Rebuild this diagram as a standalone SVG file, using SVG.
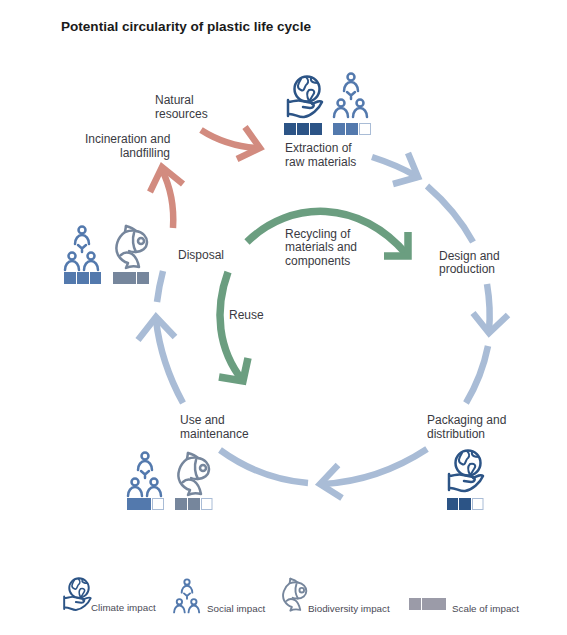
<svg xmlns="http://www.w3.org/2000/svg" width="567" height="635" viewBox="0 0 567 635">
<style>
text{font-family:"Liberation Sans",Arial,sans-serif;font-size:12px;fill:#3a3a42}
.title{font-size:13.55px;font-weight:bold;fill:#1a1a1a}
.lg{font-size:9.8px;fill:#4a4a55}
.c{fill:none;stroke-miterlimit:8}
.b{stroke:#a9bcd6;stroke-width:6.5}
.g{stroke:#6b9e80;stroke-width:7.5}
.r{stroke:#d28b7f;stroke-width:6.5}
.ci{fill:#2c5486}.so{fill:#5379ad}.bi{fill:#76869c}.gy{fill:#9b9ba8}
.em{fill:#fff;stroke:#a9bcd6;stroke-width:1}
.ic{fill:none;stroke-width:2.5;stroke-linecap:round;stroke-linejoin:round}
</style>
<defs>
<g id="globe" class="ic" stroke="#2c5486">
<circle r="12.5"/>
<path stroke-width="2" d="M-6 -10C-9 -5 -11 -1 -6 1C-2 3 -3 -3 0 -5C2 -7 1 -10 -1 -12M4 -11C3 -7 7 -6 11 -6M2 1C6 0 9 2 6 6C4 9 4 10 2 12C0 8 -1 4 2 1Z"/>
<path d="M-19 11V27M-19 13C-14 13 -10 10 -5 12L5 14C8 15 7 19 3 19L-4 18M-19 25C-13 24 -8 29 -3 28C4 27 12 20 15 13C13 11 9 13 5 15"/>
</g>
<g id="people" class="ic" stroke="#5379ad">
<circle cx="0" cy="0" r="3.5"/><path d="M-7 14C-7 9 -4 5 0 5C4 5 7 9 7 14"/>
<circle cx="-10" cy="26" r="3.5"/><path d="M-17 40C-17 35 -14 31 -10 31C-6 31 -3 35 -3 40"/>
<circle cx="9" cy="26" r="3.5"/><path d="M2 40C2 35 5 31 9 31C13 31 16 35 16 40"/>
<path d="M-4 15L0 18.500L4 15M0 18.500V22"/>
</g>
<g id="fish" class="ic" stroke="#76869c">
<path d="M11 1L10 7C3 12 -1 22 3 30C6 35 9 37 13 38L11 43C15 41 20 41 24 42C23 37 20 31 17 29C13 27 9 27 6 30"/>
<path d="M11 1C15 2 19 4 21 6C28 7 32 12 32 17C32 23 27 27 20 27C18 27 16 27 14 26"/>
<path d="M10 7C13 6 18 5 21 6M19 8C17 14 18 22 21 27"/>
<circle cx="26" cy="16" r="3"/>
</g>
</defs>
<text class="title" x="61" y="31">Potential circularity of plastic life cycle</text>
<g id="connectors">
<path class="c b" d="M372 157Q397 165 416 176"/><path class="c b" d="M408 153L418 177L393 184"/>
<path class="c b" d="M427 186Q456 211 473 242"/>
<path class="c b" d="M487 284Q491 308 489 331"/><path class="c b" d="M473 313L489 333L508 315"/>
<path class="c b" d="M488 346Q482 376 466 403"/>
<path class="c b" d="M427 449Q378 481 323 484"/><path class="c b" d="M338 465L320 484L342 498"/>
<path class="c b" d="M308 483Q260 479 220 450"/>
<path class="c b" d="M183 403Q161 363 156 320"/><path class="c b" d="M138 340L156 317L175 337"/>
<path class="c b" d="M163 271Q159 286 157 302"/>
<path class="c r" d="M173 228Q175 196 162 170"/><path class="c r" d="M150 192L162 167L183 184"/>
<path class="c r" d="M201 130Q226 146 257 148"/><path class="c r" d="M245 127L260 148L237 159"/>
<path class="c g" d="M247 242C290 200 360 198 408 256"/><path class="c g" d="M408 232V256H384"/>
<path class="c g" d="M228 272C214 310 218 350 243 381"/><path class="c g" d="M248 358L243 381L219 377"/>
</g>
<g id="extraction">
<use href="#globe" x="307" y="89"/>
<rect class="ci" x="284" y="123" width="12" height="12"/><rect class="ci" x="297" y="123" width="12" height="12"/><rect class="ci" x="310" y="123" width="12" height="12"/>
<use href="#people" x="351" y="77"/>
<rect class="so" x="333" y="123" width="12" height="12"/><rect class="so" x="346" y="123" width="12" height="12"/><rect class="em" x="359.500" y="123.500" width="11" height="11"/>
<text x="285" y="152">Extraction of</text><text x="285" y="166">raw materials</text>
</g>
<g id="design"><text x="439" y="260">Design and</text><text x="439" y="273">production</text></g>
<g id="packaging">
<text x="427" y="424">Packaging and</text><text x="427" y="438">distribution</text>
<use href="#globe" x="468" y="463"/>
<rect class="ci" x="447" y="498" width="11" height="12"/><rect class="ci" x="459" y="498" width="12" height="12"/><rect class="em" x="472.500" y="498.500" width="10.500" height="11"/>
</g>
<g id="use">
<text x="180" y="424">Use and</text><text x="180" y="438">maintenance</text>
<use href="#people" x="145" y="456"/>
<rect class="so" x="127" y="498" width="24" height="12"/><rect class="em" x="152.500" y="498.500" width="11" height="11"/>
<use href="#fish" x="177" y="452"/>
<rect class="bi" x="175" y="498" width="12" height="12"/><rect class="bi" x="188" y="498" width="12" height="12"/><rect class="em" x="201.500" y="498.500" width="10.500" height="11"/>
</g>
<g id="disposal">
<text x="178" y="259">Disposal</text>
<use href="#people" x="82" y="230"/>
<rect class="so" x="64" y="272" width="12" height="12"/><rect class="so" x="77" y="272" width="12" height="12"/><rect class="so" x="90" y="272" width="11" height="12"/>
<use href="#fish" x="115" y="225"/>
<rect class="bi" x="113" y="272" width="23" height="12"/><rect class="bi" x="137" y="272" width="12" height="12"/>
</g>
<g id="incineration"><text x="85" y="143">Incineration and</text><text x="120" y="157">landfilling</text></g>
<g id="natural"><text x="155" y="104">Natural</text><text x="155" y="118">resources</text></g>
<g id="recycling"><text x="285" y="238">Recycling of</text><text x="285" y="251">materials and</text><text x="285" y="265">components</text></g>
<g id="reuse"><text x="229" y="319">Reuse</text></g>
<g id="legend">
<use href="#globe" transform="translate(79 588) scale(.78)"/><text class="lg" x="91" y="611">Climate impact</text>
<use href="#people" transform="translate(187 582) scale(.76)"/><text class="lg" x="207" y="612">Social impact</text>
<use href="#fish" transform="translate(282 578) scale(.76)"/><text class="lg" x="308" y="612">Biodiversity impact</text>
<rect class="gy" x="409" y="598" width="12" height="12"/><rect class="gy" x="422" y="598" width="24" height="12"/><text class="lg" x="452" y="612">Scale of impact</text>
</g>
</svg>
